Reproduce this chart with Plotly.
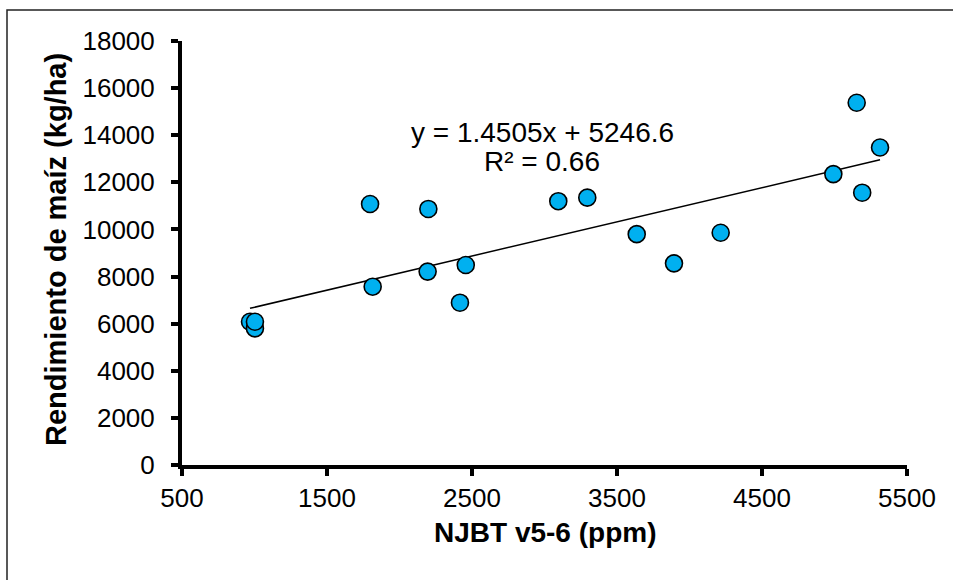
import plotly.graph_objects as go

# Data
njbt_ppm = [969, 1003, 1003, 1797, 1815, 2199, 2194, 2417, 2457, 3095, 3295,
            3636, 3893, 4215, 4992, 5153, 5191, 5314]
rendimiento = [6080, 5800, 6080, 11080, 7570, 10870, 8210, 6890, 8490, 11200, 11350,
               9800, 8560, 9860, 12350, 15380, 11560, 13480]

slope = 1.4505
intercept = 5246.6
r2 = 0.66

x_ticks = [500, 1500, 2500, 3500, 4500, 5500]
y_ticks = [0, 2000, 4000, 6000, 8000, 10000, 12000, 14000, 16000, 18000]

FONT = "Liberation Sans, Arial, sans-serif"

trend_x = [min(njbt_ppm), max(njbt_ppm)]
trend_y = [slope * v + intercept for v in trend_x]

fig = go.Figure()
fig.add_trace(go.Scatter(
    x=trend_x, y=trend_y, mode="lines",
    line=dict(color="black", width=1.5), showlegend=False, hoverinfo="skip"))
fig.add_trace(go.Scatter(
    x=njbt_ppm, y=rendimiento, mode="markers",
    marker=dict(size=17, color="#00B0F0", line=dict(color="black", width=1.6)),
    showlegend=False))

axis_common = dict(
    showgrid=False, zeroline=False, showline=True, linecolor="black", linewidth=4,
    ticks="outside", ticklen=7, tickwidth=4, tickcolor="black",
    tickfont=dict(family=FONT, size=26, color="black"),
)

fig.update_layout(
    width=953, height=580,
    margin=dict(l=182, r=46, t=41, b=115),
    paper_bgcolor="white", plot_bgcolor="white",
    xaxis=dict(range=[500, 5500], tickvals=x_ticks, ticktext=[str(v) for v in x_ticks],
               ticklabelstandoff=0, **axis_common),
    yaxis=dict(range=[0, 18000], tickvals=y_ticks, ticktext=[str(v) for v in y_ticks],
               ticklabelstandoff=11, **axis_common),
    annotations=[
        dict(text=f"y = {slope}x + {intercept}", xref="paper", yref="paper",
             x=0.4966, y=0.785, showarrow=False, xanchor="center", yanchor="middle",
             font=dict(family=FONT, size=28, color="black")),
        dict(text=f"R² = {r2}", xref="paper", yref="paper",
             x=0.4966, y=0.715, showarrow=False, xanchor="center", yanchor="middle",
             font=dict(family=FONT, size=28, color="black")),
        dict(text="<b>NJBT v5-6 (ppm)</b>", xref="paper", yref="paper",
             x=0.5, y=-0.160, showarrow=False, xanchor="center", yanchor="middle",
             font=dict(family=FONT, size=28, color="black")),
        dict(text="<b>Rendimiento de maíz (kg/ha)</b>", xref="paper", yref="paper",
             x=(56 - 182) / 725, y=(465 - 250) / 424, showarrow=False,
             xanchor="center", yanchor="middle",
             textangle=-90, font=dict(family=FONT, size=29, color="black")),
    ],
    shapes=[
        dict(type="rect", xref="paper", yref="paper",
             x0=(7 - 182) / 725, x1=(965 - 182) / 725,
             y0=(465 - 595) / 424, y1=(465 - 10) / 424,
             line=dict(color="#222222", width=1.5), fillcolor="rgba(0,0,0,0)", layer="below"),
    ],
)

fig.write_html("out.html")
